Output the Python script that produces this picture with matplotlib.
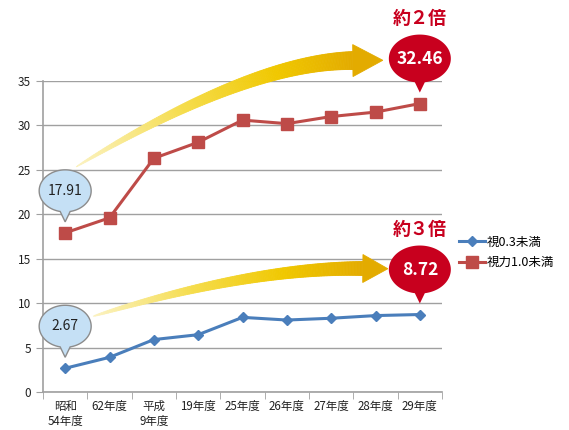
import numpy as np
import matplotlib
matplotlib.use("Agg")
import matplotlib.pyplot as plt
from matplotlib.patches import Polygon
from matplotlib.transforms import IdentityTransform
from matplotlib.colors import LinearSegmentedColormap

plt.rcParams['font.family'] = ['Noto Sans CJK JP', 'DejaVu Sans']

categories = ['昭和\n54年度', '62年度', '平成\n9年度', '19年度', '25年度',
              '26年度', '27年度', '28年度', '29年度']
under_03 = [2.67, 3.9, 5.9, 6.45, 8.4, 8.1, 8.3, 8.6, 8.72]
under_10 = [17.91, 19.6, 26.3, 28.1, 30.6, 30.2, 31.0, 31.5, 32.46]
series_names = ['視0.3未満', '視力1.0未満']
ratio_text = ['約３倍', '約２倍']

blue = '#4a7ebb'
red = '#be4b48'
deep_red = '#c8001e'

fig = plt.figure(figsize=(5.69, 4.30), dpi=100)
ax = fig.add_axes([43 / 569, 1 - 392 / 430, 399 / 569, 311 / 430])

x = np.arange(len(categories))
ax.plot(x, under_03, color=blue, lw=2.2, marker='D', ms=5.5, label=series_names[0], zorder=3)
ax.plot(x, under_10, color=red, lw=2.2, marker='s', ms=8, label=series_names[1], zorder=3)

ax.set_xlim(-0.5, len(categories) - 0.5)
ax.set_ylim(0, 35)
ax.set_yticks(range(0, 36, 5))
ax.grid(axis='y', color='#a0a0a0', lw=1)
ax.set_axisbelow(True)
ax.set_xticks(x)
ax.set_xticklabels(categories, fontsize=8.3, linespacing=1.12, color='#222222')
ax.set_xticks(np.arange(-0.5, len(categories), 1), minor=True)
ax.tick_params(axis='x', which='major', length=0, pad=6)
ax.tick_params(axis='x', which='minor', length=5, color='#a0a0a0')
ax.tick_params(axis='y', length=5, color='#a0a0a0', labelsize=8.5, labelcolor='#222222')
for s in ['top', 'right']:
    ax.spines[s].set_visible(False)
for s in ['left', 'bottom']:
    ax.spines[s].set_color('#a0a0a0')
    ax.spines[s].set_linewidth(1.2)

fig.legend(loc='center left', bbox_to_anchor=(459 / 569, 1 - 252.5 / 430),
           frameon=False, fontsize=9, handlelength=2.1, handletextpad=0.1,
           labelspacing=0.6, borderpad=0, borderaxespad=0)

ident = IdentityTransform()


def anchor(i, v):
    return ax.transData.transform((i, v))


def bubble(i, v, w, h, dy, tip, fc, ec='none', lw=0):
    px, py = anchor(i, v)
    cx, cy = px, py + dy
    d = np.arcsin(10.0 / w)
    ang = np.linspace(-np.pi / 2 + d, 3 * np.pi / 2 - d, 120)
    pts = np.column_stack([cx + w / 2 * np.cos(ang), cy + h / 2 * np.sin(ang)])
    pts = np.vstack([pts, [px, py + tip]])
    fig.add_artist(Polygon(pts, closed=True, fc=fc, ec=ec, lw=lw, transform=ident, zorder=5))
    return cx, cy


cmap = LinearSegmentedColormap.from_list('arr', ['#fbf2c0', '#f5dc4a', '#f0c800', '#e3ab00'])


def curved_arrow(a0, a2, off0, offc, off2, wmax, expo, head_len, head_half):
    p0 = anchor(*a0) + np.array(off0)
    p2 = anchor(*a2) + np.array(off2)
    c = anchor(*a2) + np.array(offc)
    t = np.linspace(0, 1, 150)[:, None]
    pts = (1 - t) ** 2 * p0 + 2 * (1 - t) * t * c + t ** 2 * p2
    der = 2 * (1 - t) * (c - p0) + 2 * t * (p2 - c)
    nrm = np.column_stack([-der[:, 1], der[:, 0]])
    nrm /= np.linalg.norm(nrm, axis=1)[:, None]
    w = (wmax * t ** expo / 2)
    up = pts + nrm * w
    lo = pts - nrm * w
    for k in range(len(t) - 1):
        col = cmap(float(t[k, 0]))
        quad = [up[k], up[k + 1], lo[k + 1], lo[k]]
        fig.add_artist(Polygon(quad, fc=col, ec=col, lw=0.6, transform=ident, zorder=4))
    d = der[-1] / np.linalg.norm(der[-1])
    n = nrm[-1]
    head = [p2 + n * head_half, p2 + d * head_len, p2 - n * head_half]
    fig.add_artist(Polygon(head, fc=cmap(1.0), ec=cmap(1.0), lw=0.6, transform=ident, zorder=4))


last = len(categories) - 1
curved_arrow((0, under_10[0]), (last, under_10[-1]), (11, 66), (-170, 42), (-67, 43),
             18, 0.65, 30, 16)
curved_arrow((0, under_03[0]), (last, under_03[-1]), (28, 52), (-168, 47), (-57, 46),
             14, 0.55, 25, 14)

for vals in [under_10, under_03]:
    cx, cy = bubble(0, vals[0], 52, 42, 42, 11, '#c5e0f5', ec='#8c8c8c', lw=1)
    fig.text(cx, cy, f'{vals[0]:.2f}', transform=ident, ha='center', va='center',
             fontsize=10, color='#222222', zorder=6)

for vals, txt in zip([under_03, under_10], ratio_text):
    cx, cy = bubble(last, vals[-1], 62, 48, 45, 11, deep_red)
    fig.text(cx, cy, f'{vals[-1]:.2f}', transform=ident, ha='center', va='center',
             fontsize=12.5, color='white', fontweight='bold', zorder=6)
    fig.text(cx, cy + 40, txt, transform=ident, ha='center', va='center',
             fontsize=13, color=deep_red, fontweight='bold', zorder=6)

fig.savefig('out.png', dpi=100)
